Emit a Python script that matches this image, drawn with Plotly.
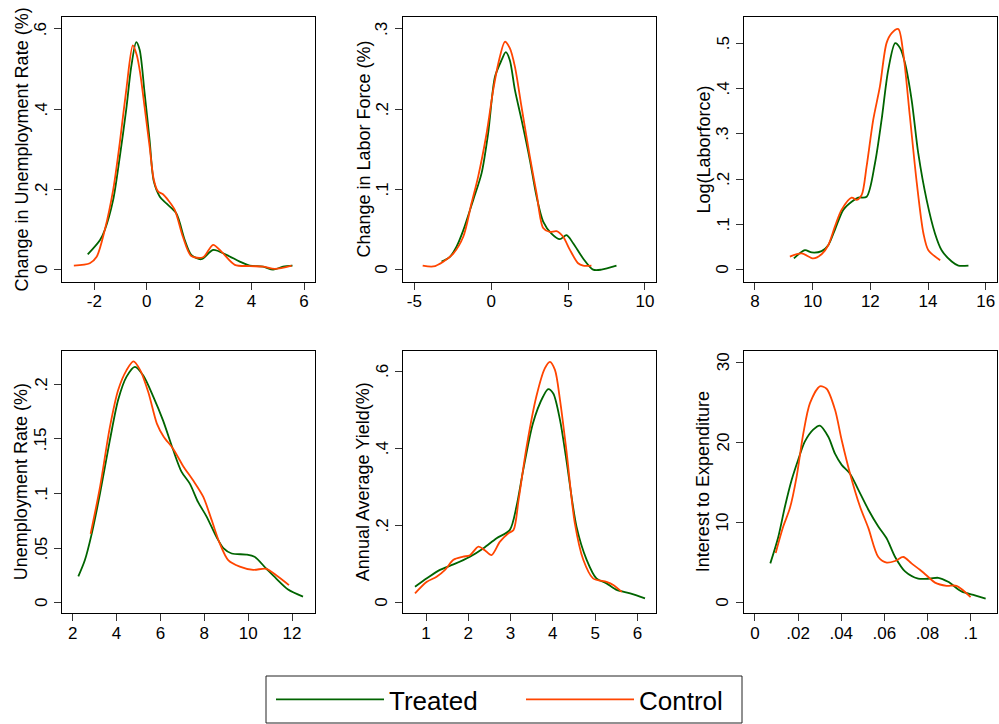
import plotly.graph_objects as go

# ---------------- data ----------------
p1_treat_x = [-2.25,-1.78,-1.6,-1.28,-1.03,-0.78,-0.59,-0.4,-0.27,-0.08,0.11,0.27,0.5,0.75,1.13,1.45,1.7,2.08,2.53,3.04,3.55,3.93,4.44,4.82,5.2,5.56]
p1_treat_y = [0.038,0.074,0.099,0.174,0.28,0.40,0.506,0.567,0.548,0.44,0.323,0.22,0.182,0.165,0.14,0.074,0.037,0.026,0.049,0.037,0.02,0.01,0.0075,0.0,0.0075,0.01]
p1_ctrl_x = [-2.78,-2.17,-1.91,-1.6,-1.28,-1.03,-0.78,-0.53,-0.38,-0.25,-0.08,0.11,0.27,0.43,0.62,0.81,1.07,1.38,1.7,2.15,2.53,2.85,3.36,3.93,4.44,4.89,5.53]
p1_ctrl_y = [0.01,0.016,0.032,0.099,0.199,0.315,0.448,0.559,0.535,0.49,0.405,0.307,0.224,0.195,0.188,0.174,0.149,0.082,0.034,0.031,0.062,0.045,0.012,0.009,0.0075,0.002,0.01]

p2_treat_x = [-3.23,-2.69,-2.25,-1.82,-1.17,-0.63,-0.2,0.24,0.67,0.95,1.21,1.54,1.97,2.51,2.95,3.38,3.92,4.46,4.9,5.33,5.98,6.63,7.17,8.15]
p2_treat_y = [0.01,0.016,0.029,0.049,0.087,0.12,0.17,0.24,0.261,0.271,0.261,0.224,0.187,0.137,0.091,0.06,0.045,0.038,0.043,0.033,0.014,0.0,0.0,0.005]
p2_ctrl_x = [-4.46,-3.77,-3.12,-2.47,-1.82,-1.28,-0.85,-0.3,0.13,0.46,0.89,1.21,1.54,1.97,2.51,2.95,3.38,3.81,4.25,4.68,5.11,5.65,5.98,6.52]
p2_ctrl_y = [0.005,0.004,0.01,0.02,0.041,0.083,0.116,0.17,0.224,0.257,0.284,0.276,0.253,0.203,0.141,0.095,0.052,0.047,0.048,0.041,0.025,0.008,0.005,0.005]

p3_treat_x = [9.35,9.73,9.97,10.31,10.54,10.77,11.06,11.35,11.58,11.87,12.16,12.39,12.62,12.86,13.03,13.2,13.43,13.66,13.95,14.24,14.47,14.82,15.05,15.4]
p3_treat_y = [0.025,0.043,0.038,0.041,0.054,0.088,0.132,0.15,0.159,0.161,0.235,0.331,0.441,0.5,0.489,0.456,0.375,0.257,0.154,0.08,0.043,0.018,0.009,0.009]
p3_ctrl_x = [9.21,9.62,10.02,10.31,10.54,10.77,11.0,11.35,11.53,11.7,11.87,12.1,12.33,12.56,12.74,12.97,13.14,13.37,13.61,13.84,14.01,14.42]
p3_ctrl_y = [0.029,0.036,0.025,0.034,0.054,0.095,0.132,0.159,0.154,0.165,0.228,0.331,0.404,0.5,0.522,0.531,0.478,0.338,0.191,0.08,0.043,0.021]

p4_treat_x = [2.26,2.56,2.87,3.25,3.7,4.08,4.46,4.84,5.22,5.67,6.12,6.58,6.96,7.34,7.72,8.1,8.56,8.87,9.25,9.91,10.29,10.83,11.28,11.82,12.5]
p4_treat_y = [0.024,0.039,0.063,0.1,0.149,0.186,0.207,0.216,0.208,0.189,0.167,0.14,0.12,0.109,0.092,0.079,0.06,0.05,0.045,0.044,0.042,0.031,0.022,0.012,0.0055]
p4_ctrl_x = [2.82,3.25,3.7,4.08,4.46,4.77,5.08,5.46,5.84,6.15,6.58,7.04,7.49,7.95,8.33,8.71,9.09,9.62,10.23,10.83,11.28,11.86]
p4_ctrl_y = [0.063,0.106,0.161,0.195,0.213,0.221,0.213,0.192,0.164,0.152,0.141,0.125,0.112,0.097,0.076,0.054,0.039,0.033,0.03,0.031,0.025,0.016]

p5_treat_x = [0.74,1.02,1.33,1.65,2.04,2.36,2.67,2.98,3.14,3.3,3.53,3.77,3.89,4.01,4.17,4.32,4.56,4.8,5.03,5.27,5.51,5.83,6.18]
p5_treat_y = [0.041,0.063,0.085,0.099,0.119,0.141,0.167,0.188,0.249,0.344,0.465,0.534,0.553,0.542,0.473,0.37,0.197,0.111,0.063,0.05,0.033,0.024,0.011]
p5_ctrl_x = [0.74,1.02,1.25,1.45,1.65,1.88,2.04,2.24,2.39,2.55,2.75,2.95,3.07,3.19,3.38,3.61,3.81,3.93,4.05,4.17,4.32,4.52,4.72,4.95,5.27,5.43,5.63]
p5_ctrl_y = [0.024,0.054,0.067,0.085,0.111,0.119,0.123,0.145,0.136,0.123,0.158,0.18,0.188,0.266,0.404,0.534,0.607,0.624,0.603,0.525,0.395,0.206,0.111,0.063,0.054,0.046,0.028]

p6_treat_x = [0.0071,0.0108,0.0139,0.017,0.02,0.0231,0.027,0.0301,0.034,0.0371,0.0402,0.0441,0.0479,0.0526,0.0572,0.0611,0.065,0.0696,0.0757,0.0811,0.085,0.0896,0.0958,0.102,0.107]
p6_treat_y = [4.9,8.2,12.0,15.3,17.8,20.1,21.6,22.1,20.7,18.6,17.2,16.1,14.1,11.6,9.5,8.0,5.7,3.9,3.0,3.0,3.1,2.6,1.4,0.9,0.5]
p6_ctrl_x = [0.0096,0.0131,0.0162,0.0193,0.0224,0.0255,0.0301,0.0332,0.0371,0.0402,0.0441,0.0487,0.0526,0.0572,0.0611,0.065,0.0688,0.0726,0.0765,0.0804,0.0835,0.0889,0.0935,0.1]
p6_ctrl_y = [6.2,9.5,11.8,15.7,21.1,24.9,27.0,26.7,24.1,20.3,16.1,12.0,9.3,5.7,5.0,5.2,5.7,4.9,4.1,3.2,2.5,2.1,2.1,0.7]

titles = ["Change in Unemployment Rate (%)", "Change in Labor Force (%)", "Log(Laborforce)",
          "Unemployment Rate (%)", "Annual Average Yield(%)", "Interest to Expenditure"]

x_ticks = [[-2, 0, 2, 4, 6], [-5, 0, 5, 10], [8, 10, 12, 14, 16],
           [2, 4, 6, 8, 10, 12], [1, 2, 3, 4, 5, 6], [0, 0.02, 0.04, 0.06, 0.08, 0.1]]
x_ticktext = [["-2", "0", "2", "4", "6"], ["-5", "0", "5", "10"], ["8", "10", "12", "14", "16"],
              ["2", "4", "6", "8", "10", "12"], ["1", "2", "3", "4", "5", "6"],
              ["0", ".02", ".04", ".06", ".08", ".1"]]
y_ticks = [[0, 0.2, 0.4, 0.6], [0, 0.1, 0.2, 0.3], [0, 0.1, 0.2, 0.3, 0.4, 0.5],
           [0, 0.05, 0.1, 0.15, 0.2], [0, 0.2, 0.4, 0.6], [0, 10, 20, 30]]
y_ticktext = [["0", ".2", ".4", ".6"], ["0", ".1", ".2", ".3"], ["0", ".1", ".2", ".3", ".4", ".5"],
              ["0", ".05", ".1", ".15", ".2"], ["0", ".2", ".4", ".6"], ["0", "10", "20", "30"]]

series = [
    (p1_treat_x, p1_treat_y, p1_ctrl_x, p1_ctrl_y),
    (p2_treat_x, p2_treat_y, p2_ctrl_x, p2_ctrl_y),
    (p3_treat_x, p3_treat_y, p3_ctrl_x, p3_ctrl_y),
    (p4_treat_x, p4_treat_y, p4_ctrl_x, p4_ctrl_y),
    (p5_treat_x, p5_treat_y, p5_ctrl_x, p5_ctrl_y),
    (p6_treat_x, p6_treat_y, p6_ctrl_x, p6_ctrl_y),
]

# ---------------- layout / style ----------------
W, H = 999, 724
GREEN = "#006400"
ORANGE = "#FF4500"
FONT = "Arial, 'Liberation Sans', sans-serif"

x_ranges = [[-3.22, 6.43], [-5.74, 10.72], [7.62, 16.40], [1.53, 13.06], [0.456, 6.44], [-0.0051, 0.1124]]
y_ranges = [[-0.030, 0.629], [-0.015, 0.3145], [-0.0265, 0.557], [-0.0098, 0.2305], [-0.0276, 0.652], [-1.33, 31.41]]

col_px = [(62.3, 315.3), (403, 656), (744, 997.3)]
row_px = [(17.3, 281.7), (351, 613.3)]
title_x_px = [21, 363, 703]
ylabel_gap_px = 21  # centre of rotated y tick labels, left of the frame
legend_box_px = (266, 676, 742, 723)

fig = go.Figure()
layout = dict(
    width=W, height=H, margin=dict(l=0, r=0, t=0, b=0),
    paper_bgcolor="white", plot_bgcolor="white",
    font=dict(family=FONT, size=17, color="black"),
    showlegend=True,
    legend=dict(orientation="h", x=271 / W, xanchor="left", y=1 - 676 / H, yanchor="top",
                borderwidth=0, font=dict(size=26, family=FONT, color="black"),
                itemwidth=108, entrywidth=127, bgcolor="rgba(0,0,0,0)"),
    shapes=[dict(type="rect", xref="paper", yref="paper",
                 x0=legend_box_px[0] / W, x1=legend_box_px[2] / W,
                 y0=1 - legend_box_px[3] / H, y1=1 - legend_box_px[1] / H,
                 line=dict(color="#222222", width=1), fillcolor="rgba(0,0,0,0)", layer="below")],
)
annotations = []

for i, (tx, ty, cx, cy) in enumerate(series):
    r, c = divmod(i, 3)
    k = "" if i == 0 else str(i + 1)
    fig.add_trace(go.Scatter(x=tx, y=ty, mode="lines", name="Treated",
                             line=dict(color=GREEN, width=1.8, shape="spline", smoothing=0.8),
                             xaxis="x" + k, yaxis="y" + k, showlegend=(i == 0), legendgroup="t"))
    fig.add_trace(go.Scatter(x=cx, y=cy, mode="lines", name="Control",
                             line=dict(color=ORANGE, width=1.8, shape="spline", smoothing=0.8),
                             xaxis="x" + k, yaxis="y" + k, showlegend=(i == 0), legendgroup="c"))
    x0, x1 = col_px[c]
    y0, y1 = row_px[r]
    common = dict(showline=True, linecolor="black", linewidth=1, mirror=True, showgrid=False, zeroline=False,
                  ticks="outside", ticklen=7, tickcolor="#333333", tickwidth=1,
                  tickfont=dict(size=17, family=FONT, color="black"))
    layout["xaxis" + k] = dict(domain=[x0 / W, x1 / W], anchor="y" + k, range=x_ranges[i],
                               tickmode="array", tickvals=x_ticks[i], ticktext=x_ticktext[i],
                               ticklabelstandoff=-3, ticklabeloverflow="allow", **common)
    layout["yaxis" + k] = dict(domain=[1 - y1 / H, 1 - y0 / H], anchor="x" + k, range=y_ranges[i],
                               tickmode="array", tickvals=y_ticks[i], showticklabels=False, **common)
    # rotated (Stata-style) y tick labels, placed on the axis scale
    for v, t in zip(y_ticks[i], y_ticktext[i]):
        annotations.append(dict(text=t, textangle=-90, xref="paper", yref="y" + k,
                                x=(x0 - ylabel_gap_px) / W, y=v, xanchor="center", yanchor="middle",
                                showarrow=False, font=dict(size=17, family=FONT, color="black")))
    annotations.append(dict(text=titles[i], textangle=-90, xref="paper", yref="paper",
                            x=title_x_px[c] / W, y=1 - (y0 + y1) / 2 / H, xanchor="center", yanchor="middle",
                            showarrow=False, font=dict(size=18, family=FONT, color="black")))

layout["annotations"] = annotations
fig.update_layout(**layout)
fig.write_html("out.html", config={"displayModeBar": False},
               post_script="document.body.style.margin='0';document.body.style.overflow='hidden';")
